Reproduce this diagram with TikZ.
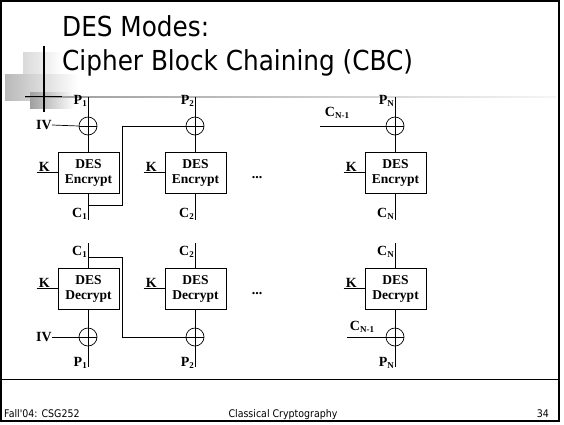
\documentclass[tikz,border=0pt]{standalone}
\usepackage{fontspec}
\setmainfont{Liberation Serif}
\newfontfamily\tahomalike[FakeStretch=0.9]{DejaVu Sans}
\newcommand\lsub[1]{\raisebox{-2.5pt}{\fontsize{9}{9}\selectfont\bfseries #1}}
\begin{document}
\begin{tikzpicture}[x=1pt,y=-1pt,
  lbl/.style={font=\fontsize{14}{14}\selectfont\bfseries, inner sep=0pt},
  boxtxt/.style={font=\fontsize{13.5}{15}\selectfont\bfseries, align=center, inner sep=0pt},
  ln/.style={line width=0.7pt},
  xorc/.style={circle, draw, line width=0.7pt, minimum size=18pt, inner sep=0pt},
  desbox/.style={draw, line width=0.8pt, minimum width=61pt, minimum height=41pt, inner sep=0pt}
]
\useasboundingbox (0,0) rectangle (564,424);
\fill[white] (0,0) rectangle (564,424);
% slide frame
\draw[line width=2pt] (1,1) rectangle (559,421);
\draw[line width=1pt] (1,379.5) -- (559,379.5);
% decoration
\shade[left color=gray!30, right color=white] (23,52) rectangle (62,73);
\shade[left color=gray!55, right color=white] (5,74) rectangle (78,100);
\shade[left color=gray!75, right color=white] (30,92) rectangle (75,108);
\shade[left color=gray!80, right color=gray!8] (25,96) rectangle (556,97.2);
\draw[line width=1.6pt] (44,46) -- (44,112);
\draw[line width=1.2pt] (25,96.5) -- (62,96.5);
% title
\node[anchor=base west, inner sep=0pt, font=\tahomalike\fontsize{27.5}{30}\selectfont] (t1) at (62,36) {DES Modes:};
\node[anchor=base west, inner sep=0pt, font=\tahomalike\fontsize{27.5}{30}\selectfont] (t2) at (62,70) {Cipher Block Chaining (CBC)};
% footer
\node[anchor=base west, inner sep=0pt, font=\tahomalike\fontsize{10.5}{12}\selectfont] (f1) at (4,417) {Fall'04: CSG252};
\node[anchor=base, inner sep=0pt, font=\tahomalike\fontsize{10.5}{12}\selectfont] (f2) at (283,417) {Classical Cryptography};
\node[anchor=base east, inner sep=0pt, font=\tahomalike\fontsize{10.5}{12}\selectfont] (f3) at (549,417) {34};

% ===== Encryption row =====
\foreach \i/\x in {1/88,2/195,3/395}{
  \coordinate (etop\i) at (\x,97);
  \node[xorc] (ex\i) at (\x,126) {};
  \node[desbox] (eb\i) at (\x+0.5,172.5) {};
  \node[boxtxt] at (eb\i.center) {DES\\Encrypt};
  \coordinate (ebot\i) at (\x,220);
  \draw[ln] (etop\i) -- (ex\i.north);
  \draw[ln] (ex\i.north) -- (ex\i.south);
  \draw[ln] (ex\i.west) -- (ex\i.east);
  \draw[ln] (ex\i.south) -- (ex\i.south |- eb\i.north);
  \draw[ln] (ebot\i |- eb\i.south) -- (ebot\i);
  \coordinate (ek\i) at ([xshift=-21pt]eb\i.west);
  \draw[ln] (ek\i) -- (eb\i.west);
  \node[lbl, anchor=base west] at ([xshift=2pt,yshift=1pt]ek\i) {K};
}
\node[lbl, anchor=east] (p1) at (87,101) {P\lsub{1}};
\node[lbl, anchor=east] (p2) at (194,101) {P\lsub{2}};
\node[lbl, anchor=east] (pn) at (394,101) {P\lsub{N}};
\node[lbl, anchor=east] (c1) at (87,214) {C\lsub{1}};
\node[lbl, anchor=east] (c2) at (194,214) {C\lsub{2}};
\node[lbl, anchor=east] (cn) at (394,214) {C\lsub{N}};
\node[lbl, anchor=east] (iv1) at (52,125) {IV};
\draw[ln] (iv1.east) -- (ex1.west);
\node[lbl] (cnm1) at (337,113) {C\lsub{N-1}};
\coordinate (cnm1s) at (320,126);
\draw[ln] (cnm1s) -- (ex3.west);
\coordinate (ch1a) at (88,205);
\coordinate (ch1b) at (122,205);
\draw[ln] (ch1a) -- (ch1b) |- (ex2.west);
\node[lbl, anchor=base] (dots1) at (257,178) {...};

% ===== Decryption row =====
\foreach \i/\x in {1/88,2/195,3/395}{
  \coordinate (dtop\i) at (\x,243);
  \node[desbox] (db\i) at (\x+0.5,288.5) {};
  \node[boxtxt] at (db\i.center) {DES\\Decrypt};
  \node[xorc] (dx\i) at (\x,337) {};
  \coordinate (dbot\i) at (\x,367);
  \draw[ln] (dtop\i) -- (dtop\i |- db\i.north);
  \draw[ln] (dx\i.north |- db\i.south) -- (dx\i.north);
  \draw[ln] (dx\i.north) -- (dx\i.south);
  \draw[ln] (dx\i.west) -- (dx\i.east);
  \draw[ln] (dx\i.south) -- (dbot\i);
  \coordinate (dk\i) at ([xshift=-21pt]db\i.west);
  \draw[ln] (dk\i) -- (db\i.west);
  \node[lbl, anchor=base west] at ([xshift=2pt,yshift=1pt]dk\i) {K};
}
\node[lbl, anchor=east] (dc1) at (87,252) {C\lsub{1}};
\node[lbl, anchor=east] (dc2) at (194,252) {C\lsub{2}};
\node[lbl, anchor=east] (dcn) at (394,252) {C\lsub{N}};
\node[lbl, anchor=east] (dp1) at (87,363) {P\lsub{1}};
\node[lbl, anchor=east] (dp2) at (194,363) {P\lsub{2}};
\node[lbl, anchor=east] (dpn) at (394,363) {P\lsub{N}};
\node[lbl, anchor=east] (div1) at (52,337) {IV};
\draw[ln] (div1.east) -- (dx1.west);
\node[lbl] (dcnm1) at (362,327) {C\lsub{N-1}};
\coordinate (dcnm1s) at (347,337);
\draw[ln] (dcnm1s) -- (dx3.west);
\coordinate (dch1a) at (88,257);
\coordinate (dch1b) at (122,257);
\draw[ln] (dch1a) -- (dch1b) |- (dx2.west);
\node[lbl, anchor=base] (dots2) at (257,294) {...};
\end{tikzpicture}
\end{document}
